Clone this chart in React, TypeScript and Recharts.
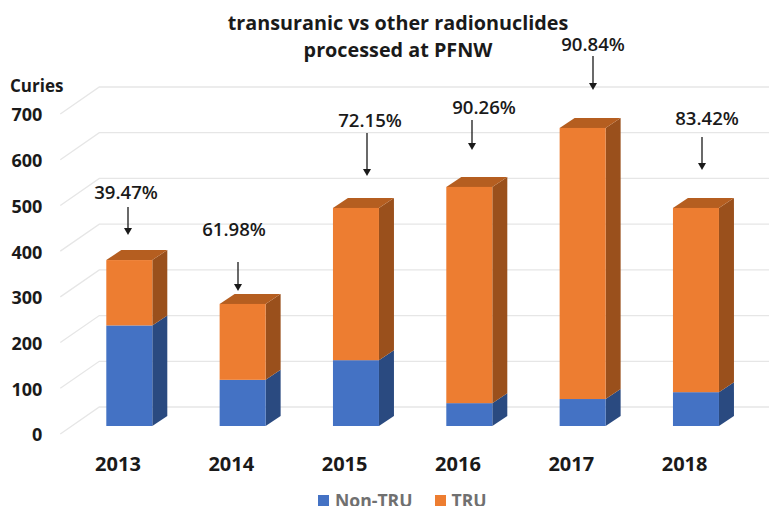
import { BarChart, Bar, XAxis, YAxis, CartesianGrid, Legend } from "recharts";

const YEARS = ["2013", "2014", "2015", "2016", "2017", "2018"];
const NON_TRU = [220, 101, 144, 50, 59, 74];
const TRU = [143, 166, 333, 473, 593, 403];
const Y_TICKS = [0, 100, 200, 300, 400, 500, 600, 700];
const SHARE_LABELS = ["39.47%", "61.98%", "72.15%", "90.26%", "90.84%", "83.42%"];

// where the callouts sit on the page: label centre, label y, arrow x, arrow start, arrow tip
const CALLOUTS = [
  [126, 193, 128, 207, 235],
  [234, 230, 238, 262, 291],
  [370, 121, 367, 133, 176],
  [484, 108, 472, 120, 150],
  [593, 45, 593, 56, 90],
  [707, 119, 702, 137, 170],
];

const chartData = YEARS.map((year, i) => ({
  year,
  nonTru: NON_TRU[i],
  tru: TRU[i],
}));

const FONT = "'Open Sans', sans-serif";
const DEPTH_X = 15;
const DEPTH_Y = 10;

function Box3D(props: any) {
  const { x, y, width, height, front, side, top, showTop } = props;
  const r = x + width;
  const b = y + height;
  return (
    <g>
      <polygon
        points={`${r},${y} ${r + DEPTH_X},${y - DEPTH_Y} ${r + DEPTH_X},${b - DEPTH_Y} ${r},${b}`}
        fill={side}
      />
      {showTop && (
        <polygon
          points={`${x},${y} ${x + DEPTH_X},${y - DEPTH_Y} ${r + DEPTH_X},${y - DEPTH_Y} ${r},${y}`}
          fill={top}
        />
      )}
      <rect x={x} y={y} width={width} height={height} fill={front} />
    </g>
  );
}

function GridLine3D(props: any) {
  const { x1, x2, y1 } = props;
  return (
    <polyline
      points={`${x1 - 12},${y1 + 8} ${x1 + 27},${y1 - 19} ${x2 + 17},${y1 - 19}`}
      fill="none"
      stroke="#e6e6e6"
      strokeWidth={1.3}
    />
  );
}

function LegendRow(props: any) {
  const items = props.payload || [];
  return (
    <div style={{ display: "flex", height: 22, paddingLeft: 318, alignItems: "flex-end" }}>
      {items.map((item: any, i: number) => (
        <div
          key={item.value}
          style={{ display: "flex", alignItems: "center", height: 12, marginRight: i === 0 ? 22 : 0 }}
        >
          <span style={{ width: 11, height: 11, background: item.color, marginRight: 6 }} />
          <span style={{ color: "#707070", fontSize: 17.6, fontWeight: 700, fontFamily: FONT, lineHeight: "12px" }}>
            {item.value}
          </span>
        </div>
      ))}
    </div>
  );
}

export default function App() {
  return (
    <div style={{ position: "absolute", left: 0, top: 0, width: 769, height: 506, fontFamily: FONT }}>
      <BarChart
        width={769}
        height={506}
        data={chartData}
        margin={{ top: 106, right: 16.7, bottom: 0, left: 12.3 }}
        barSize={46}
      >
        <CartesianGrid vertical={false} horizontal={(p: any) => <GridLine3D key={p.y1} {...p} />} />
        <XAxis
          dataKey="year"
          height={58}
          axisLine={false}
          tickLine={false}
          tickSize={0}
          tickMargin={31}
          tick={{ fontSize: 20, fontWeight: 700, fill: "#1a1a1a", dx: -11, fontFamily: FONT }}
        />
        <YAxis
          width={60}
          domain={[0, 700]}
          ticks={Y_TICKS}
          axisLine={false}
          tickLine={false}
          tickSize={0}
          tickMargin={30}
          tick={{ fontSize: 18, fontWeight: 700, fill: "#1a1a1a", dy: 9, fontFamily: FONT }}
        />
        <Legend
          verticalAlign="bottom"
          height={22}
          wrapperStyle={{ bottom: 0, left: 0, width: 769 }}
          content={<LegendRow />}
        />
        <Bar
          dataKey="nonTru"
          name="Non-TRU"
          stackId="a"
          fill="#4472c4"
          isAnimationActive={false}
          shape={(p: any) => <Box3D {...p} front="#4472c4" side="#2a4a80" />}
        />
        <Bar
          dataKey="tru"
          name="TRU"
          stackId="a"
          fill="#ed7d31"
          isAnimationActive={false}
          shape={(p: any) => <Box3D {...p} front="#ed7d31" side="#9a501c" top="#b55e20" showTop />}
        />
      </BarChart>
      <svg width={769} height={506} style={{ position: "absolute", left: 0, top: 0, pointerEvents: "none" }}>
        <text x={398} y={30} textAnchor="middle" fontSize={19.8} fontWeight={700} fill="#1a1a1a">
          transuranic vs other radionuclides
        </text>
        <text x={398} y={57} textAnchor="middle" fontSize={19.8} fontWeight={700} fill="#1a1a1a">
          processed at PFNW
        </text>
        <text x={10} y={92} fontSize={17} fontWeight={700} fill="#1a1a1a">
          Curies
        </text>
        {CALLOUTS.map(([cx, ly, ax, y1, y2], i) => (
          <g key={SHARE_LABELS[i]}>
            <text x={cx} y={ly + 6} textAnchor="middle" fontSize={18.6} fontWeight={600} fill="#1a1a1a">
              {SHARE_LABELS[i]}
            </text>
            <line x1={ax} y1={y1} x2={ax} y2={y2 - 6} stroke="#1a1a1a" strokeWidth={1.3} />
            <polygon points={`${ax - 4},${y2 - 7} ${ax + 4},${y2 - 7} ${ax},${y2}`} fill="#1a1a1a" />
          </g>
        ))}
      </svg>
    </div>
  );
}
